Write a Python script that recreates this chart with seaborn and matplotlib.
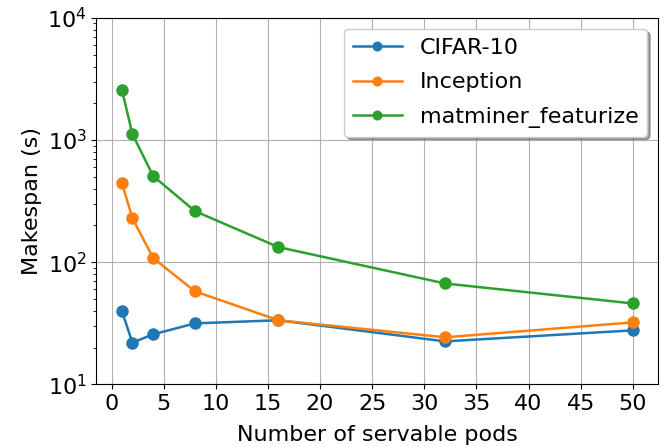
import pandas as pd
import matplotlib
matplotlib.use("Agg")
import matplotlib.pyplot as plt
import seaborn as sns

pods = [1, 2, 4, 8, 16, 32, 50]
cifar10 = [39.7, 22.0, 25.7, 31.6, 33.5, 22.5, 27.7]
inception = [445, 229, 108, 57.8, 33.5, 24.3, 32.2]
matminer = [2570, 1120, 507, 262, 133, 67, 46]
names = ["CIFAR-10", "Inception", "matminer_featurize"]

df = pd.concat([
    pd.DataFrame({"pods": pods, "makespan": vals, "app": name})
    for name, vals in zip(names, [cifar10, inception, matminer])
])

plt.rcParams["font.size"] = 16
fig, ax = plt.subplots(figsize=(6.65, 4.47), dpi=100)
sns.lineplot(data=df, x="pods", y="makespan", hue="app", hue_order=names,
             palette=["#1f77b4", "#ff7f0e", "#2ca02c"], marker="o",
             markersize=9, markeredgewidth=0, linewidth=1.8, ax=ax)
ax.set_yscale("log")
ax.set_ylim(10, 1e4)
ax.set_xticks(range(0, 51, 5))
ax.tick_params(labelsize=16)
ax.grid(True, which="major", color="#b0b0b0", linewidth=0.8)
ax.set_xlabel("Number of servable pods", fontsize=16, labelpad=8)
ax.set_ylabel("Makespan (s)", fontsize=16)
leg = ax.legend(loc="upper right", shadow=True, fontsize=16, title=None,
                borderaxespad=0.5, markerscale=0.8, labelspacing=0.65,
                handlelength=2.2)
fig.subplots_adjust(left=0.145, right=0.99, top=0.96, bottom=0.14)
fig.savefig("out.png", dpi=100)
